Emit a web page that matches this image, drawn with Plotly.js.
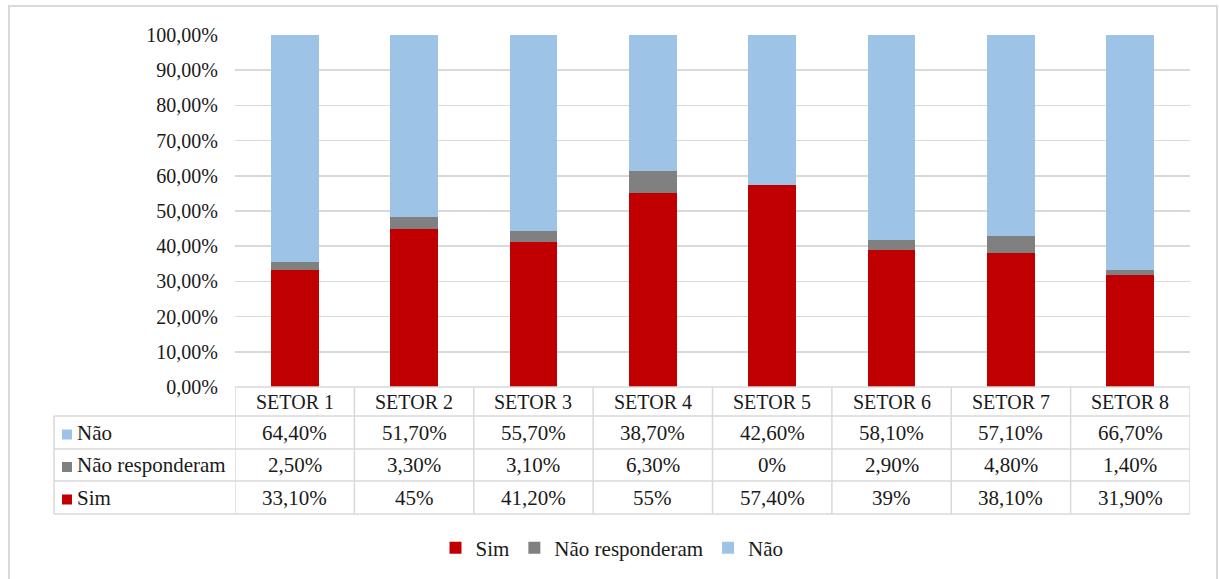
<!DOCTYPE html>
<html>
<head>
<meta charset="utf-8">
<script src="https://cdn.plot.ly/plotly-3.0.1.min.js"></script>
<style>
  html, body { margin: 0; padding: 0; background: #ffffff; }
  #chart { width: 1219px; height: 579px; }
</style>
</head>
<body>
<div id="chart"></div>
<script>
// Survey answers per sector (percent of respondents)
const sectors = ['SETOR 1', 'SETOR 2', 'SETOR 3', 'SETOR 4', 'SETOR 5', 'SETOR 6', 'SETOR 7', 'SETOR 8'];
const sim = [33.1, 45, 41.2, 55, 57.4, 39, 38.1, 31.9];
const naoResponderam = [2.5, 3.3, 3.1, 6.3, 0, 2.9, 4.8, 1.4];
const nao = [64.4, 51.7, 55.7, 38.7, 42.6, 58.1, 57.1, 66.7];

const seriesNames = ['Sim', 'Não responderam', 'Não'];
const seriesColors = ['#C00000', '#808080', '#9DC3E6'];

const W = 1219, H = 579;
const px = x => x / W;
const py = y => 1 - y / H;

const FONT = 'Liberation Serif';
const TXT = '#1a1a1a';
const GRID = '#D9D9D9';

// Plot area in page pixels
const plotLeft = 235, plotRight = 1190, plotTop = 35, plotBottom = 387;
// Data-table geometry in page pixels
const tableLeft = 54;
const rowEdges = [387, 416, 449, 481, 514];

function fmtPct(v) {
  if (Number.isInteger(v)) return v + '%';
  return v.toFixed(2).replace('.', ',') + '%';
}

const seriesValues = [sim, naoResponderam, nao];
const traces = seriesValues.map((vals, k) => ({
  type: 'bar',
  name: seriesNames[k],
  x: sectors,
  y: vals.map(v => v / 100),
  marker: { color: seriesColors[k], line: { width: 0 } },
  width: 0.4,
  hoverinfo: 'skip'
}));

const shapes = [];
const annotations = [];

// Outer chart frame
shapes.push({ type: 'rect', xref: 'paper', yref: 'paper',
  x0: px(9), x1: px(1217), y0: py(6), y1: py(600),
  line: { color: GRID, width: 2 }, fillcolor: 'rgba(0,0,0,0)', layer: 'below' });

// Table horizontal rules
rowEdges.forEach((y, i) => {
  shapes.push({ type: 'line', xref: 'paper', yref: 'paper',
    x0: px(i === 0 ? plotLeft : tableLeft), x1: px(plotRight), y0: py(y), y1: py(y),
    line: { color: GRID, width: 1.5 } });
});
// Table vertical rules (column boundaries follow the category axis)
for (let i = 0; i <= sectors.length; i++) {
  shapes.push({ type: 'line', xref: 'x', yref: 'paper',
    x0: i - 0.5, x1: i - 0.5, y0: py(rowEdges[0]), y1: py(rowEdges[4]),
    line: { color: GRID, width: 1.5 } });
}
shapes.push({ type: 'line', xref: 'paper', yref: 'paper',
  x0: px(tableLeft), x1: px(tableLeft), y0: py(rowEdges[1]), y1: py(rowEdges[4]),
  line: { color: GRID, width: 1.5 } });

// Header row: sector names
sectors.forEach((s, i) => {
  annotations.push({ xref: 'x', yref: 'paper', x: i, y: py((rowEdges[0] + rowEdges[1]) / 2),
    text: s, showarrow: false, xanchor: 'center', yanchor: 'middle',
    font: { family: FONT, size: 20, color: TXT } });
});

// Table body rows, top to bottom: Não, Não responderam, Sim
const tableOrder = [2, 1, 0];
tableOrder.forEach((k, r) => {
  const yc = (rowEdges[r + 1] + rowEdges[r + 2]) / 2;
  // key square
  shapes.push({ type: 'rect', xref: 'paper', yref: 'paper',
    x0: px(62), x1: px(72), y0: py(yc - 3), y1: py(yc + 7),
    line: { width: 0 }, fillcolor: seriesColors[k] });
  annotations.push({ xref: 'paper', yref: 'paper', x: px(75), y: py(yc),
    text: seriesNames[k], showarrow: false, xanchor: 'left', yanchor: 'middle',
    font: { family: FONT, size: 21, color: TXT } });
  seriesValues[k].forEach((v, i) => {
    annotations.push({ xref: 'x', yref: 'paper', x: i, y: py(yc),
      text: fmtPct(v), showarrow: false, xanchor: 'center', yanchor: 'middle',
      font: { family: FONT, size: 21, color: TXT } });
  });
});

const layout = {
  width: W, height: H,
  margin: { l: 0, r: 0, t: 0, b: 0 },
  paper_bgcolor: '#ffffff',
  plot_bgcolor: '#ffffff',
  separators: ',.',
  barmode: 'stack',
  font: { family: FONT, size: 20, color: TXT },
  xaxis: {
    domain: [px(plotLeft), px(plotRight)],
    type: 'category',
    range: [-0.5, sectors.length - 0.5],
    showticklabels: false, showgrid: false, zeroline: false, showline: false, ticks: ''
  },
  yaxis: {
    domain: [py(plotBottom), py(plotTop)],
    range: [0, 1],
    dtick: 0.1, tick0: 0,
    tickformat: '.2%',
    showgrid: true, gridcolor: GRID, gridwidth: 1.5,
    zeroline: false, showline: false, ticks: '',
    ticklabelstandoff: 16,
    tickfont: { family: FONT, size: 20, color: TXT }
  },
  showlegend: true,
  legend: {
    orientation: 'h', traceorder: 'normal',
    x: px(612), xanchor: 'center', y: py(548), yanchor: 'middle',
    font: { family: FONT, size: 21, color: TXT },
    itemwidth: 30, bgcolor: 'rgba(0,0,0,0)'
  },
  shapes: shapes,
  annotations: annotations
};

Plotly.newPlot('chart', traces, layout, { staticPlot: true, displayModeBar: false });
</script>
</body>
</html>
